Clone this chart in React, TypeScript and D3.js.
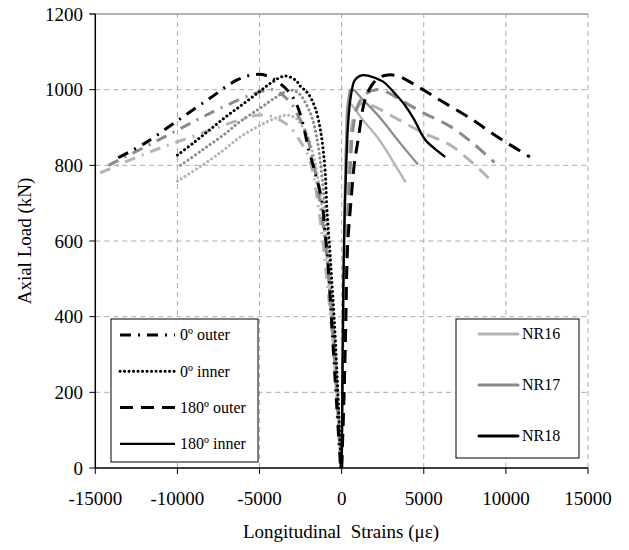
import React from "react";
import * as d3 from "d3";

// ---------- data ----------
const xTicks = [-15000, -10000, -5000, 0, 5000, 10000, 15000];
const yTicks = [0, 200, 400, 600, 800, 1000, 1200];

const specimens = ["NR16", "NR17", "NR18"];
const specimenColors = ["#b4b4b4", "#8a8a8a", "#000000"];
const gaugeNames = ["0º outer", "0º inner", "180º outer", "180º inner"];

// 0º outer (dash-dot)
const nr16Outer0 = [[-14700,780],[-12000,830],[-10000,862],[-8000,893],[-6200,920],[-4970,933],[-4000,925],[-3140,901],[-2500,862],[-2110,833],[-1745,780],[-1450,700],[-1150,600],[-900,500],[-680,400],[-480,300],[-300,200],[-150,100],[-50,0]];
const nr17Outer0 = [[-14200,800],[-12000,848],[-10000,893],[-8000,938],[-6000,978],[-5000,994],[-4170,1000],[-3140,967],[-2700,935],[-2230,893],[-1745,814],[-1320,700],[-1000,600],[-780,500],[-600,400],[-440,300],[-300,200],[-170,100],[-60,0]];
const nr18Outer0 = [[-13600,820],[-12000,858],[-10000,918],[-8000,978],[-6400,1025],[-5300,1040],[-4500,1036],[-3450,1005],[-2900,975],[-2540,938],[-2250,890],[-2050,849],[-1800,810],[-1620,780],[-1400,745],[-1200,705],[-1010,621],[-850,550],[-700,450],[-560,350],[-420,250],[-280,150],[-150,60],[-60,0]];

// 0º inner (dotted)
const nr16Inner0 = [[-10000,758],[-8500,800],[-7200,840],[-6180,875],[-5000,905],[-4000,925],[-3320,933],[-2800,925],[-2500,910],[-2100,880],[-1800,840],[-1550,790],[-1350,740],[-1150,670],[-950,580],[-780,490],[-620,400],[-470,300],[-320,200],[-170,100],[-50,0]];
const nr17Inner0 = [[-9800,800],[-8500,840],[-7200,880],[-6200,915],[-5000,950],[-4000,980],[-3140,999],[-2600,990],[-2200,965],[-1800,925],[-1500,870],[-1300,810],[-1150,750],[-1000,680],[-820,580],[-650,480],[-500,380],[-360,280],[-230,180],[-110,80],[-30,0]];
const nr18Inner0 = [[-10000,827],[-9000,860],[-8000,895],[-7000,930],[-6000,962],[-5000,995],[-4230,1020],[-3450,1036],[-2800,1025],[-2530,1010],[-2050,990],[-1620,953],[-1320,900],[-1150,850],[-1010,788],[-890,680],[-710,570],[-580,480],[-460,400],[-340,300],[-230,200],[-130,100],[-40,0]];

// 180º outer (dashed)
const nr16Outer180 = [[0,0],[50,100],[100,200],[150,300],[200,400],[250,500],[300,600],[370,700],[450,800],[600,900],[900,950],[1300,965],[2000,955],[3500,920],[5000,885],[6600,854],[8000,805],[9100,760]];
const nr17Outer180 = [[0,0],[60,100],[120,200],[180,300],[230,400],[280,500],[340,600],[420,700],[530,800],[700,900],[1000,960],[1500,990],[2100,1000],[2700,995],[3500,975],[5000,938],[6600,903],[8000,858],[9300,808]];
const nr18Outer180 = [[0,0],[80,100],[150,200],[210,300],[260,400],[300,500],[380,600],[560,700],[760,800],[1000,867],[1420,973],[1840,1012],[2300,1032],[2820,1039],[3500,1035],[4750,1005],[6000,972],[7800,925],[9500,875],[11460,822]];

// 180º inner (solid)
const nr16Inner180 = [[0,0],[40,100],[60,200],[80,300],[100,400],[130,500],[160,600],[200,700],[250,800],[300,900],[340,950],[450,965],[700,955],[1200,925],[2300,867],[3100,812],[3900,755]];
const nr17Inner180 = [[0,0],[30,100],[50,200],[70,300],[90,400],[110,500],[140,600],[180,700],[230,800],[300,900],[400,970],[550,1000],[700,1000],[1200,978],[2300,928],[3500,862],[4650,802]];
const nr18Inner180 = [[0,0],[20,100],[40,200],[60,300],[80,400],[110,500],[150,600],[200,700],[280,800],[380,900],[550,980],[800,1025],[1200,1038],[1700,1036],[2500,1022],[3200,992],[3800,962],[4400,922],[4900,880],[5200,862],[5700,843],[6300,822]];

const curveTable = [
  { s: 0, g: 0, data: nr16Outer0 }, { s: 1, g: 0, data: nr17Outer0 }, { s: 2, g: 0, data: nr18Outer0 },
  { s: 0, g: 1, data: nr16Inner0 }, { s: 1, g: 1, data: nr17Inner0 }, { s: 2, g: 1, data: nr18Inner0 },
  { s: 0, g: 2, data: nr16Outer180 }, { s: 1, g: 2, data: nr17Outer180 }, { s: 2, g: 2, data: nr18Outer180 },
  { s: 0, g: 3, data: nr16Inner180 }, { s: 1, g: 3, data: nr17Inner180 }, { s: 2, g: 3, data: nr18Inner180 },
];

// ---------- styles ----------
const gaugeStyles = [
  { dash: "11,7,2,7", width: 3, cap: "butt" },
  { dash: "0.1,4.4", width: 3, cap: "round" },
  { dash: "13,8", width: 3, cap: "butt" },
  { dash: "", width: 2.3, cap: "butt" },
];

const FONT = "Liberation Serif, Times New Roman, DejaVu Serif, serif";
const tStyle = { fontFamily: FONT };

export default function App() {
  const W = 629, H = 550;
  const x = d3.scaleLinear().domain([-15000, 15000]).range([95.3, 588]);
  const y = d3.scaleLinear().domain([0, 1200]).range([468, 14]);
  const line = d3
    .line<number[]>()
    .x((d) => x(d[0]))
    .y((d) => y(d[1]))
    .curve(d3.curveCatmullRom.alpha(0.5));

  const order = [0, 1, 2];
  return (
    <svg width={W} height={H} style={{ position: "absolute", left: 0, top: 0, background: "#fff" }}>
      <rect x={0} y={0} width={W} height={H} fill="#fff" />
      {/* grid */}
      {xTicks.filter((t) => t !== -15000).map((t) => (
        <line key={"gx" + t} x1={x(t)} x2={x(t)} y1={y(0)} y2={y(1200)} stroke="#aaaaaa" strokeWidth={1} strokeDasharray="5,4" />
      ))}
      {yTicks.filter((t) => t !== 0 && t !== 1200).map((t) => (
        <line key={"gy" + t} x1={x(-15000)} x2={x(15000)} y1={y(t)} y2={y(t)} stroke="#aaaaaa" strokeWidth={1} strokeDasharray="5,4" />
      ))}
      <line x1={x(-15000) - 6} x2={x(15000)} y1={y(1200)} y2={y(1200)} stroke="#9a9a9a" strokeWidth={1.3} />

      {/* curves */}
      {order.flatMap((s) =>
        curveTable.filter((c) => c.s === s).map((c) => {
          const st = gaugeStyles[c.g];
          return (
            <path key={"c" + s + "-" + c.g} d={line(c.data as any) || ""} fill="none" stroke={specimenColors[c.s]}
              strokeWidth={st.width} strokeDasharray={st.dash || undefined} strokeLinecap={st.cap as any} strokeLinejoin="round" />
          );
        })
      )}

      {/* axes */}
      <line x1={x(-15000)} x2={x(-15000)} y1={y(0)} y2={y(1200)} stroke="#000" strokeWidth={1.5} />
      <line x1={x(-15000)} x2={x(15000)} y1={y(0)} y2={y(0)} stroke="#000" strokeWidth={1.5} />
      {yTicks.map((t) => (
        <g key={"yt" + t}>
          <line x1={x(-15000) - 6} x2={x(-15000)} y1={y(t)} y2={y(t)} stroke="#000" strokeWidth={1} />
          <text x={83} y={y(t)} dy="0.35em" textAnchor="end" fontSize={19} style={tStyle}>{t}</text>
        </g>
      ))}
      {xTicks.map((t) => (
        <g key={"xt" + t}>
          <line x1={x(t)} x2={x(t)} y1={y(0)} y2={y(0) + 6} stroke="#000" strokeWidth={1} />
          <text x={x(t)} y={505} textAnchor="middle" fontSize={19} style={tStyle}>{t}</text>
        </g>
      ))}
      <text x={341} y={538} textAnchor="middle" fontSize={19} style={{ ...tStyle, whiteSpace: "pre" }}>{"Longitudinal  Strains (με)"}</text>
      <text transform={`translate(31,241) rotate(-90)`} textAnchor="middle" fontSize={19} style={tStyle}>Axial Load (kN)</text>

      {/* gauge legend */}
      <rect x={111} y={319} width={147} height={143} fill="#fff" stroke="#000" strokeWidth={1} />
      {gaugeNames.map((g, i) => {
        const st = gaugeStyles[i];
        const ly = 335 + i * 36.3;
        return (
          <g key={"lg" + i}>
            <line x1={120} x2={175} y1={ly} y2={ly} stroke="#000" strokeWidth={st.width} strokeDasharray={st.dash || undefined} strokeLinecap={st.cap as any} />
            <text x={180} y={ly} dy="0.33em" fontSize={16} style={tStyle}>{g}</text>
          </g>
        );
      })}

      {/* specimen legend */}
      <rect x={456} y={319} width={123} height={139} fill="#fff" stroke="#000" strokeWidth={1} />
      {specimens.map((s, i) => {
        const ly = 334 + i * 51;
        return (
          <g key={"ls" + i}>
            <line x1={479} x2={518} y1={ly} y2={ly} stroke={specimenColors[i]} strokeWidth={3} strokeLinecap="round" />
            <text x={522} y={ly} dy="0.33em" fontSize={16} style={tStyle}>{s}</text>
          </g>
        );
      })}
    </svg>
  );
}
